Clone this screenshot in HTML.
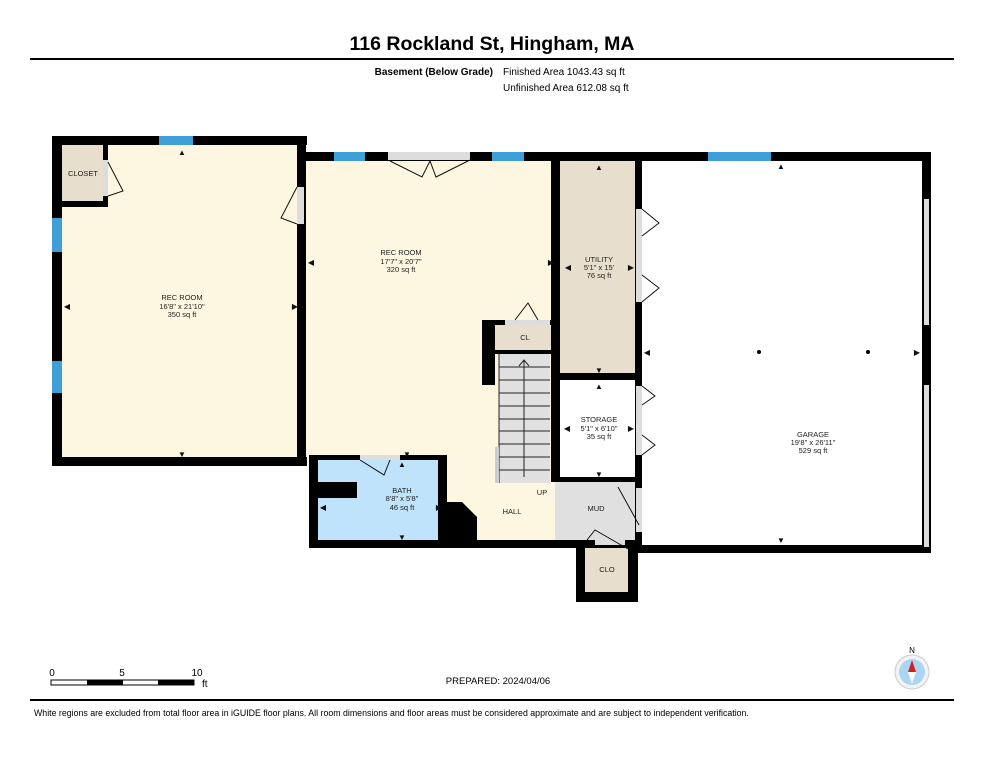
<!DOCTYPE html>
<html><head><meta charset="utf-8"><style>
html,body{margin:0;padding:0;background:#fff;}
svg{display:block;font-family:"Liberation Sans",Arial,sans-serif;}
</style></head><body>
<svg width="984" height="758" viewBox="0 0 984 758" xmlns="http://www.w3.org/2000/svg">
<rect width="984" height="758" fill="#fff"/>
<text x="492" y="50" text-anchor="middle" font-size="19.5" font-weight="bold">116 Rockland St, Hingham, MA</text>
<rect x="30" y="58" width="924" height="2" fill="#000"/>
<text x="493" y="75" text-anchor="end" font-size="10" font-weight="bold">Basement (Below Grade)</text>
<text x="503" y="75" font-size="10">Finished Area 1043.43 sq ft</text>
<text x="503" y="91" font-size="10">Unfinished Area 612.08 sq ft</text>

<!-- floors -->
<rect x="52" y="136" width="254" height="330" fill="#fdf7e1"/>
<rect x="304" y="152" width="255" height="305" fill="#fdf7e1"/>
<rect x="440" y="455" width="119" height="87" fill="#fdf7e1"/>
<rect x="559" y="152" width="80" height="225" fill="#e8dece"/>
<rect x="486" y="325" width="66" height="25" fill="#e8dece"/>
<rect x="62" y="145" width="41" height="56" fill="#e8dece"/>
<rect x="309" y="455" width="135" height="90" fill="#bfe3fb"/>
<rect x="555" y="481" width="82" height="60" fill="#e0e0e0"/>
<rect x="585" y="545" width="43" height="47" fill="#e8dece"/>
<rect x="499" y="354" width="51" height="129" fill="#e0e0e0"/>
<g stroke="#222" stroke-width="1">
<line x1="499" y1="367" x2="550" y2="367"/><line x1="499" y1="380" x2="550" y2="380"/><line x1="499" y1="393" x2="550" y2="393"/><line x1="499" y1="406" x2="550" y2="406"/><line x1="499" y1="419" x2="550" y2="419"/><line x1="499" y1="431" x2="550" y2="431"/><line x1="499" y1="444" x2="550" y2="444"/><line x1="499" y1="457" x2="550" y2="457"/><line x1="499" y1="470" x2="550" y2="470"/>
<line x1="524" y1="477" x2="524" y2="360"/><polyline points="519,366 524,360 529,366" fill="none"/>
<line x1="499" y1="354" x2="499" y2="483"/>
</g>
<rect x="495" y="447" width="4" height="36" fill="#ccc"/>

<!-- walls -->
<g fill="#000">
<rect x="52" y="136" width="255" height="9"/>
<rect x="52" y="136" width="10" height="330"/>
<rect x="52" y="457" width="255" height="9"/>
<rect x="297" y="136" width="9" height="330"/>
<rect x="103" y="145" width="5" height="62"/>
<rect x="62" y="201" width="46" height="6"/>
<rect x="297" y="152" width="263" height="9"/>
<rect x="551" y="152" width="380" height="9"/>
<rect x="551" y="152" width="9" height="330"/>
<rect x="922" y="152" width="9" height="401"/>
<rect x="635" y="152" width="7" height="401"/>
<rect x="559" y="373" width="80" height="7"/>
<rect x="559" y="477" width="80" height="5"/>
<rect x="637" y="545" width="294" height="8"/>
<rect x="309" y="455" width="9" height="93"/>
<rect x="309" y="455" width="135" height="5"/>
<rect x="438" y="455" width="9" height="50"/>
<rect x="309" y="540" width="330" height="8"/>
<rect x="317" y="482" width="40" height="16"/>
<polygon points="438,502 462,502 477,517 477,540 438,540"/>
<rect x="482" y="320" width="70" height="5"/>
<rect x="482" y="320" width="13" height="65"/>
<rect x="486" y="350" width="66" height="4"/>
<rect x="576" y="540" width="9" height="62"/>
<rect x="628" y="540" width="10" height="62"/>
<rect x="576" y="592" width="62" height="10"/>
</g>
<!-- windows -->
<g fill="#3f9fd6">
<rect x="159" y="136" width="34" height="9"/>
<rect x="52" y="218" width="10" height="34"/>
<rect x="52" y="361" width="10" height="32"/>
<rect x="334" y="152" width="31" height="9"/>
<rect x="492" y="152" width="32" height="9"/>
<rect x="708" y="152" width="63" height="9"/>
</g>
<!-- openings -->
<g fill="#ddd">
<rect x="388" y="152" width="82" height="8"/>
<rect x="297" y="187" width="7" height="37"/>
<rect x="103" y="160" width="5" height="36"/>
<rect x="636" y="209" width="6" height="93"/>
<rect x="636" y="386" width="6" height="69"/>
<rect x="636" y="488" width="6" height="44"/>
<rect x="924" y="199" width="5" height="126"/>
<rect x="924" y="385" width="5" height="162"/>
<rect x="360" y="455" width="40" height="5"/>
<rect x="595" y="540" width="30" height="5"/>
<rect x="505" y="320" width="45" height="5"/>
</g>
<g fill="none" stroke="#111" stroke-width="1">
<polyline points="108,162 123,191 108,196"/>
<polyline points="297,187 281,218 297,224"/>
<polyline points="390,161 422,177 430,161 436,177 470,160"/>
<polyline points="642,209 659,223 642,236"/>
<polyline points="642,275 659,288 642,302"/>
<polyline points="642,386 655,396 642,405"/>
<polyline points="642,435 655,445 642,455"/>
<polyline points="360,460 384,475 390,460"/>
<polyline points="515,320 528,303 538,320"/>
<polyline points="618,487 639,525"/>
<polyline points="587,540 595,530 628,549"/>
</g>
<!-- dimension arrows -->
<g font-size="8" text-anchor="middle" fill="#111">
<text x="182" y="155">▲</text><text x="182" y="457">▼</text>
<text x="67" y="309">◀</text><text x="295" y="309">▶</text>
<text x="311" y="265">◀</text><text x="551" y="265">▶</text>
<text x="407" y="457">▼</text><text x="402" y="467">▲</text>
<text x="323" y="510">◀</text><text x="439" y="510">▶</text>
<text x="402" y="540">▼</text>
<text x="599" y="170">▲</text><text x="599" y="373">▼</text>
<text x="568" y="270">◀</text><text x="631" y="270">▶</text>
<text x="599" y="389">▲</text><text x="599" y="477">▼</text>
<text x="567" y="431">◀</text><text x="631" y="431">▶</text>
<text x="781" y="169">▲</text><text x="781" y="543">▼</text>
<text x="647" y="355">◀</text><text x="917" y="355">▶</text>
</g>
<circle cx="759" cy="352" r="2" fill="#000"/><circle cx="868" cy="352" r="2" fill="#000"/>
<!-- labels -->
<g font-size="7.5" text-anchor="middle" fill="#222">
<text x="83" y="176">CLOSET</text>
<text x="182" y="300">REC ROOM</text><text x="182" y="309">16'8" x 21'10"</text><text x="182" y="317">350 sq ft</text>
<text x="401" y="255">REC ROOM</text><text x="401" y="264">17'7" x 20'7"</text><text x="401" y="272">320 sq ft</text>
<text x="599" y="262">UTILITY</text><text x="599" y="270">5'1" x 15'</text><text x="599" y="278">76 sq ft</text>
<text x="525" y="340">CL</text>
<text x="599" y="422">STORAGE</text><text x="599" y="431">5'1" x 6'10"</text><text x="599" y="439">35 sq ft</text>
<text x="813" y="437">GARAGE</text><text x="813" y="445">19'8" x 26'11"</text><text x="813" y="453">529 sq ft</text>
<text x="402" y="493">BATH</text><text x="402" y="501">8'8" x 5'8"</text><text x="402" y="510">46 sq ft</text>
<text x="542" y="495">UP</text>
<text x="512" y="514">HALL</text>
<text x="596" y="511">MUD</text>
<text x="607" y="572">CLO</text>
</g>
<!-- scale bar -->
<g font-size="10" fill="#000">
<text x="52" y="676" text-anchor="middle">0</text>
<text x="122" y="676" text-anchor="middle">5</text>
<text x="197" y="676" text-anchor="middle">10</text>
<text x="202" y="687">ft</text>
</g>
<rect x="51" y="680" width="143" height="5" fill="#fff" stroke="#000" stroke-width="1"/>
<rect x="87" y="680" width="36" height="5" fill="#000"/>
<rect x="158" y="680" width="36" height="5" fill="#000"/>
<text x="498" y="684" text-anchor="middle" font-size="9.5">PREPARED: 2024/04/06</text>
<text x="912" y="653" text-anchor="middle" font-size="8">N</text>
<circle cx="912" cy="672" r="17" fill="#f3f3f3" stroke="#ccc"/>
<circle cx="912" cy="672" r="13" fill="#a9d6f2"/>
<polygon points="912,660 908,672 916,672" fill="#d31f26"/>
<polygon points="912,684 908,672 916,672" fill="#fff"/>
<rect x="30" y="699" width="924" height="2" fill="#000"/>
<text x="34" y="716" font-size="8.8">White regions are excluded from total floor area in iGUIDE floor plans. All room dimensions and floor areas must be considered approximate and are subject to independent verification.</text>
</svg>
</body></html>
